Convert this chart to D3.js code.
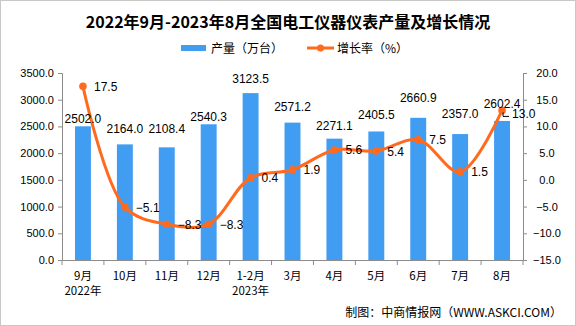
<!DOCTYPE html>
<html><head><meta charset="utf-8">
<script src="https://cdn.jsdelivr.net/npm/d3@7"></script>
<style>
html,body{margin:0;padding:0;background:#fff;}
svg{display:block;}
</style></head>
<body>
<svg id="chart" width="576" height="326"></svg>
<script>
const categories = ["9月","10月","11月","12月","1-2月","3月","4月","5月","6月","7月","8月"];
const subLabels = ["2022年","","","","2023年","","","","","",""];
const production = [2502.0,2164.0,2108.4,2540.3,3123.5,2571.2,2271.1,2405.5,2660.9,2357.0,2602.4];
const growth = [17.5,-5.1,-8.3,-8.3,0.4,1.9,5.6,5.4,7.5,1.5,13.0];
const leftTicks = [0,500,1000,1500,2000,2500,3000,3500];
const rightTicks = [-15,-10,-5,0,5,10,15,20];
const barLabelLift = [3,11,14,3,10,12,9,12,16,16,13];

const title = "2022年9月-2023年8月全国电工仪器仪表产量及增长情况";
const legendBar = "产量（万台）";
const legendLine = "增长率（%）";
const source = "制图：中商情报网（WWW.ASKCI.COM）";

const BLUE = "#409DF2", ORANGE = "#FF6A1F", AXIS = "#8c8c8c";
const NUMFONT = "'Liberation Sans', Arial, sans-serif";
const CJK = "'Noto Sans CJK SC', 'Liberation Sans', sans-serif";

const svg = d3.select("#chart");
svg.append("rect").attr("x",0.5).attr("y",0.5).attr("width",575).attr("height",325)
  .attr("fill","#fff").attr("stroke","#c8c8c8");

const L = 62, R = 523, T = 73, B = 260;
const x = d3.scaleBand().domain(categories).range([L,R]).paddingInner(0.62).paddingOuter(0.31);
const yL = d3.scaleLinear().domain([0,3500]).range([B,T]);
const yR = d3.scaleLinear().domain([-15,20]).range([B,T]);
const cx = c => x(c) + x.bandwidth()/2;

// title
svg.append("text").attr("x",288).attr("y",28).attr("text-anchor","middle")
  .attr("font-family",CJK).attr("font-weight","bold").attr("font-size",16).attr("fill","#000").text(title);

// legend
svg.append("rect").attr("x",181).attr("y",45).attr("width",25).attr("height",6).attr("fill",BLUE);
svg.append("text").attr("x",211).attr("y",52.5).attr("font-family",CJK).attr("font-size",12).attr("fill","#000").text(legendBar);
svg.append("line").attr("x1",307).attr("x2",334).attr("y1",48).attr("y2",48).attr("stroke",ORANGE).attr("stroke-width",3);
svg.append("circle").attr("cx",320.5).attr("cy",48).attr("r",3.5).attr("fill",ORANGE);
svg.append("text").attr("x",337).attr("y",52.5).attr("font-family",CJK).attr("font-size",12).attr("fill","#000").text(legendLine);

// axes
const gL = svg.append("g").attr("transform",`translate(${L},0)`)
  .call(d3.axisLeft(yL).tickValues(leftTicks).tickFormat(d3.format(".1f")).tickSize(4).tickPadding(4));
const gR = svg.append("g").attr("transform",`translate(${R},0)`)
  .call(d3.axisRight(yR).tickValues(rightTicks).tickFormat(d3.format(".1f")).tickSize(4).tickPadding(6));
const gX = svg.append("g").attr("transform",`translate(0,${B})`)
  .call(d3.axisBottom(x).tickSize(0).tickFormat(""));
[gL,gR,gX].forEach(g=>{
  g.select(".domain").attr("stroke",AXIS);
  g.selectAll(".tick line").attr("stroke",AXIS);
  g.selectAll("text").attr("font-family",NUMFONT).attr("font-size",11).attr("fill","#000");
});
gR.selectAll(".tick text").attr("text-anchor","middle").attr("dx","14");
// category boundary ticks
const step = x.step();
gX.selectAll(".bound").data(d3.range(categories.length+1)).join("line")
  .attr("x1",i=>L + i*step).attr("x2",i=>L + i*step).attr("y1",0).attr("y2",5).attr("stroke",AXIS);

// x labels
const xl = svg.append("g").attr("font-family",CJK).attr("font-size",11.5).attr("fill","#000").attr("text-anchor","middle");
xl.selectAll(".c").data(categories).join("text").attr("x",d=>cx(d)).attr("y",280).text(d=>d);
xl.selectAll(".s").data(subLabels).join("text").attr("x",(d,i)=>cx(categories[i])).attr("y",295).text(d=>d);

// bars
svg.append("g").selectAll("rect").data(production).join("rect")
  .attr("x",(d,i)=>x(categories[i])).attr("width",x.bandwidth())
  .attr("y",d=>yL(d)).attr("height",d=>B - yL(d)).attr("fill",BLUE);

// line
const pts = growth.map((g,i)=>[cx(categories[i]), yR(g)]);
svg.append("path").attr("d",d3.line().curve(d3.curveCatmullRom.alpha(0.5))(pts))
  .attr("fill","none").attr("stroke",ORANGE).attr("stroke-width",3);
svg.append("g").selectAll("circle").data(pts).join("circle")
  .attr("cx",d=>d[0]).attr("cy",d=>d[1]).attr("r",3.8).attr("fill",ORANGE);

// bar labels
svg.append("g").selectAll("text").data(production).join("text")
  .attr("x",(d,i)=>cx(categories[i])).attr("y",(d,i)=>yL(d)-barLabelLift[i])
  .attr("text-anchor","middle").attr("font-family",NUMFONT).attr("font-size",12).attr("fill","#000")
  .text(d=>d3.format(".1f")(d));

// growth labels
const last = growth.length-1;
svg.append("g").selectAll("text").data(growth).join("text")
  .attr("x",(d,i)=>pts[i][0] + (i===last?10:11))
  .attr("y",(d,i)=>pts[i][1] + (i===last?8:4.5))
  .attr("font-family",NUMFONT).attr("font-size",12).attr("fill","#000")
  .text(d=>d3.format(".1f")(d));
// leader line for last label
svg.append("path")
  .attr("d",`M${pts[last][0]+1},${pts[last][1]+2}V${pts[last][1]+6}H${pts[last][0]+7}`)
  .attr("fill","none").attr("stroke","#000").attr("stroke-width",1);

// source
svg.append("text").attr("x",562).attr("y",317).attr("text-anchor","end")
  .attr("font-family",CJK).attr("font-size",12).attr("fill","#000").text(source);
</script>
</body></html>
